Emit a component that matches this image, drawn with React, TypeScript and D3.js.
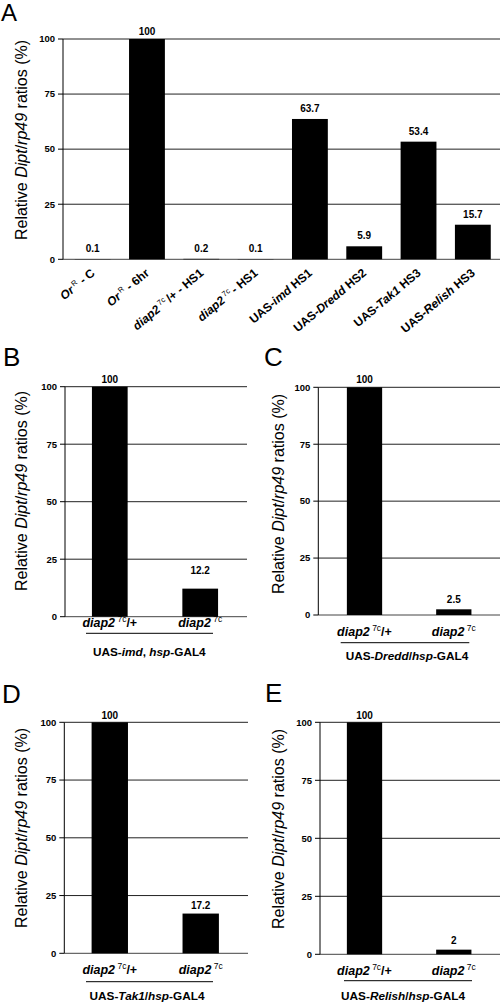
import React from "react";
import * as d3 from "d3";

// ---------- DATA ----------
type Seg = { t: string; i?: boolean; sup?: boolean };

const categoriesA: Seg[][] = [
  [{ t: "Or", i: true }, { t: " R", sup: true }, { t: " - C" }],
  [{ t: "Or", i: true }, { t: " R", sup: true }, { t: " - 6hr" }],
  [{ t: "diap2", i: true }, { t: " 7c ", sup: true }, { t: "/+ - HS1" }],
  [{ t: "diap2", i: true }, { t: " 7c ", sup: true }, { t: "- HS1" }],
  [{ t: "UAS-" }, { t: "imd", i: true }, { t: " HS1" }],
  [{ t: "UAS-" }, { t: "Dredd", i: true }, { t: " HS2" }],
  [{ t: "UAS-" }, { t: "Tak1", i: true }, { t: " HS3" }],
  [{ t: "UAS-" }, { t: "Relish", i: true }, { t: " HS3" }],
];
const valuesA = [0.1, 100, 0.2, 0.1, 63.7, 5.9, 53.4, 15.7];
const valueLabelsA = ["0.1", "100", "0.2", "0.1", "63.7", "5.9", "53.4", "15.7"];

const categoriesPair: Seg[][] = [
  [{ t: "diap2", i: true }, { t: " 7c", sup: true }, { t: "/+" }],
  [{ t: "diap2", i: true }, { t: " 7c", sup: true }],
];
const valuesB = [100, 12.2];
const valuesC = [100, 2.5];
const valuesD = [100, 17.2];
const valuesE = [100, 2];
const labelsB = ["100", "12.2"];
const labelsC = ["100", "2.5"];
const labelsD = ["100", "17.2"];
const labelsE = ["100", "2"];

const groupB: Seg[] = [{ t: "UAS-" }, { t: "imd", i: true }, { t: ", " }, { t: "hsp", i: true }, { t: "-GAL4" }];
const groupC: Seg[] = [{ t: "UAS-" }, { t: "Dredd", i: true }, { t: "/" }, { t: "hsp", i: true }, { t: "-GAL4" }];
const groupD: Seg[] = [{ t: "UAS-" }, { t: "Tak1", i: true }, { t: "/" }, { t: "hsp", i: true }, { t: "-GAL4" }];
const groupE: Seg[] = [{ t: "UAS-" }, { t: "Relish", i: true }, { t: "/" }, { t: "hsp", i: true }, { t: "-GAL4" }];

const yTicks = [0, 25, 50, 75, 100];
const yTitle: Seg[] = [{ t: "Relative " }, { t: "Dipt", i: true }, { t: "/" }, { t: "rp49", i: true }, { t: " ratios (%)" }];

const FONT = "'Liberation Sans', Arial, Helvetica, sans-serif";

// ---------- helpers ----------
function RichText({ segs, size, supSize }: { segs: Seg[]; size: number; supSize: number }) {
  const out: React.ReactNode[] = [];
  let raised = false;
  segs.forEach((s, k) => {
    let dy = 0;
    if (s.sup && !raised) {
      dy = -size * 0.38;
      raised = true;
    } else if (!s.sup && raised) {
      dy = size * 0.38;
      raised = false;
    }
    out.push(
      <tspan
        key={k}
        dy={dy || undefined}
        fontStyle={s.i ? "italic" : "normal"}
        fontSize={s.sup ? supSize : size}
        fontWeight={s.sup ? "normal" : undefined}
        xmlSpace="preserve"
      >
        {s.t}
      </tspan>
    );
  });
  return <>{out}</>;
}

type PanelCfg = {
  letter: string;
  letterX: number;
  letterY: number;
  letterSize: number;
  left: number;
  right: number;
  yTop: number;
  yBottom: number;
  bandRange: [number, number];
  pi: number;
  po: number;
  titleX: number;
  titleY: number;
  values: number[];
  labels: string[];
  gaps: number[];
  cats: Seg[][];
  rotated: boolean;
  catY?: number;
  underlineY?: number;
  underline?: [number, number];
  group?: Seg[];
  groupX?: number;
  groupY?: number;
};

function Panel({ c }: { c: PanelCfg }) {
  const y = d3.scaleLinear().domain([0, 100]).range([c.yBottom, c.yTop]);
  const x = d3
    .scaleBand<number>()
    .domain(d3.range(c.values.length))
    .range(c.bandRange)
    .paddingInner(c.pi)
    .paddingOuter(c.po);
  const bw = x.bandwidth();
  return (
    <g fontFamily={FONT}>
      <text x={c.letterX} y={c.letterY} fontSize={c.letterSize} fill="#000">
        {c.letter}
      </text>
      {yTicks.map((t) => (
        <line
          key={"g" + t}
          x1={c.left}
          x2={c.right}
          y1={y(t)}
          y2={y(t)}
          stroke={t === 0 ? "#444" : "#222"}
          strokeWidth={1}
        />
      ))}
      <line x1={c.left} x2={c.left} y1={y(0)} y2={y(100)} stroke="#000" strokeWidth={1} />
      {yTicks.map((t) => (
        <g key={"t" + t}>
          <line x1={c.left - 5} x2={c.left} y1={y(t)} y2={y(t)} stroke="#000" />
          <text
            x={c.left - 8}
            y={y(t)}
            dy="0.35em"
            textAnchor="end"
            fontSize={9.5}
            fontWeight="bold"
          >
            {t}
          </text>
        </g>
      ))}
      <text
        transform={`translate(${c.titleX},${c.titleY}) rotate(-90)`}
        textAnchor="middle"
        fontSize={16}
      >
        <RichText segs={yTitle} size={16} supSize={10} />
      </text>
      {c.values.map((v, i) => (
        <rect
          key={"b" + i}
          x={x(i)!}
          y={y(v)}
          width={bw}
          height={y(0) - y(v)}
          fill="#000"
        />
      ))}
      {c.values.map((v, i) => (
        <text
          key={"v" + i}
          x={x(i)! + bw / 2}
          y={y(v) - c.gaps[i]}
          textAnchor="middle"
          fontSize={10}
          fontWeight="bold"
        >
          {c.labels[i]}
        </text>
      ))}
      {c.cats.map((segs, i) =>
        c.rotated ? (
          <text
            key={"c" + i}
            transform={`translate(${x(i)! + bw / 2 + 3},${c.yBottom + 15}) rotate(-40)`}
            textAnchor="end"
            fontSize={12}
            fontWeight="bold"
          >
            <RichText segs={segs} size={12} supSize={7.5} />
          </text>
        ) : (
          <text
            key={"c" + i}
            x={x(i)! + bw / 2}
            y={c.catY}
            textAnchor="middle"
            fontSize={12.5}
            fontWeight="bold"
          >
            <RichText segs={segs} size={12.5} supSize={8.5} />
          </text>
        )
      )}
      {c.underline && (
        <line
          x1={c.underline[0]}
          x2={c.underline[1]}
          y1={c.underlineY}
          y2={c.underlineY}
          stroke="#000"
          strokeWidth={1}
        />
      )}
      {c.group && (
        <text x={c.groupX} y={c.groupY} textAnchor="middle" fontSize={11.8} fontWeight="bold">
          <RichText segs={c.group} size={11.8} supSize={7} />
        </text>
      )}
    </g>
  );
}

const panels: PanelCfg[] = [
  {
    letter: "A", letterX: 1, letterY: 20.5, letterSize: 24,
    left: 63, right: 500, yTop: 39, yBottom: 259.3,
    bandRange: [65.5, 500], pi: 0.34, po: 0.17,
    titleX: 27, titleY: 140,
    values: valuesA, labels: valueLabelsA,
    gaps: [7, 4.5, 7, 7, 7, 7, 7, 7],
    cats: categoriesA, rotated: true,
  },
  {
    letter: "B", letterX: 3, letterY: 365.5, letterSize: 26,
    left: 65, right: 247, yTop: 386.7, yBottom: 616.7,
    bandRange: [63, 247], pi: 0.605, po: 0.32,
    titleX: 26.7, titleY: 491,
    values: valuesB, labels: labelsB, gaps: [4, 15],
    cats: categoriesPair, rotated: false,
    catY: 627, underlineY: 633.3, underline: [86, 213],
    group: groupB, groupX: 149.3, groupY: 656,
  },
  {
    letter: "C", letterX: 264, letterY: 366, letterSize: 26,
    left: 318.3, right: 500, yTop: 387.3, yBottom: 615,
    bandRange: [318.3, 500], pi: 0.605, po: 0.32,
    titleX: 284, titleY: 494,
    values: valuesC, labels: labelsC, gaps: [4.5, 6],
    cats: categoriesPair, rotated: false,
    catY: 636, underlineY: 642.7, underline: [340.7, 469.3],
    group: groupC, groupX: 407, groupY: 660,
  },
  {
    letter: "D", letterX: 2, letterY: 703, letterSize: 26,
    left: 64.3, right: 248, yTop: 722.3, yBottom: 953.3,
    bandRange: [62.5, 248], pi: 0.6, po: 0.32,
    titleX: 26.7, titleY: 828,
    values: valuesD, labels: labelsD, gaps: [3, 4.5],
    cats: categoriesPair, rotated: false,
    catY: 974, underlineY: 981.7, underline: [86, 213],
    group: groupD, groupX: 147, groupY: 1000,
  },
  {
    letter: "E", letterX: 265, letterY: 702, letterSize: 26,
    left: 320, right: 500, yTop: 722.3, yBottom: 954.3,
    bandRange: [318.3, 500], pi: 0.605, po: 0.32,
    titleX: 284, titleY: 829,
    values: valuesE, labels: labelsE, gaps: [3.3, 6],
    cats: categoriesPair, rotated: false,
    catY: 975, underlineY: 980.7, underline: [344, 472],
    group: groupE, groupX: 403, groupY: 1000,
  },
];

export default function App() {
  return (
    <svg
      width={500}
      height={1004}
      viewBox="0 0 500 1004"
      style={{ position: "absolute", left: 0, top: 0, background: "#fff" }}
    >
      <rect width={500} height={1004} fill="#fff" />
      {panels.map((p) => (
        <Panel key={p.letter} c={p} />
      ))}
    </svg>
  );
}
